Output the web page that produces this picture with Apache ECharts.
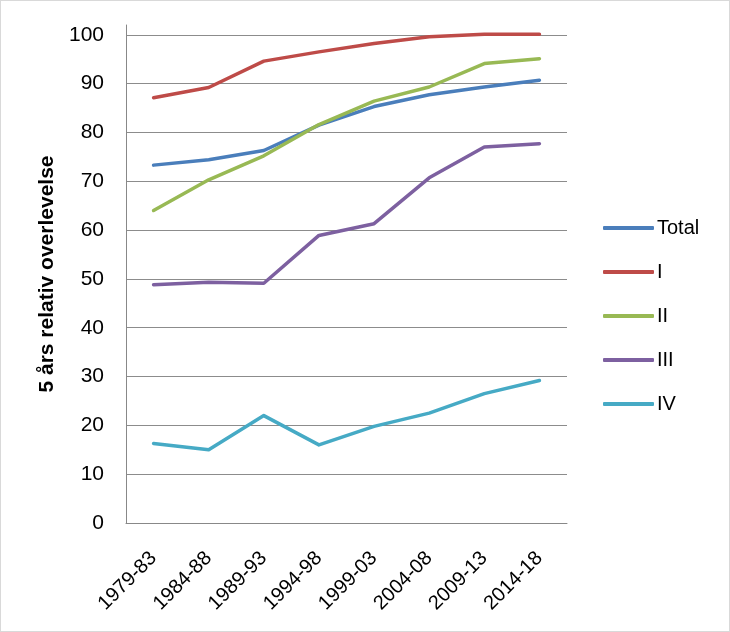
<!DOCTYPE html>
<html>
<head>
<meta charset="utf-8">
<script src="https://cdn.jsdelivr.net/npm/echarts@6/dist/echarts.min.js"></script>
<style>
html,body{margin:0;padding:0;background:#fff;}
#frame{position:absolute;left:0;top:0;width:728px;height:630px;border:1px solid #d9d9d9;}
#chart{width:730px;height:632px;position:absolute;left:0;top:0;}
</style>
</head>
<body>
<div id="frame"></div>
<div id="chart"></div>
<script>
const categories = ['1979-83','1984-88','1989-93','1994-98','1999-03','2004-08','2009-13','2014-18'];
const total = [73.3, 74.4, 76.3, 81.5, 85.3, 87.7, 89.3, 90.7];
const stageI = [87.1, 89.2, 94.6, 96.5, 98.2, 99.6, 100.1, 100.1];
const stageII = [64.0, 70.3, 75.2, 81.6, 86.4, 89.3, 94.1, 95.1];
const stageIII = [48.8, 49.3, 49.1, 58.9, 61.3, 70.7, 77.0, 77.7];
const stageIV = [16.3, 15.0, 22.0, 16.0, 19.8, 22.5, 26.5, 29.2];
const seriesNames = ['Total','I','II','III','IV'];
const colors = ['#4A7EBB','#BE4B48','#98B954','#7D60A0','#46AAC5'];
const yTicks = {min: 0, max: 102, interval: 10};
const yTitle = '5 års relativ overlevelse';

const dataSets = [total, stageI, stageII, stageIII, stageIV];
const font = '"Liberation Sans", "DejaVu Sans", sans-serif';
const chart = echarts.init(document.getElementById('chart'));
chart.setOption({
  animation: false,
  grid: {left: 126, right: 163, top: 25, bottom: 109, containLabel: false},
  legend: {
    orient: 'vertical', left: 598, top: 213,
    itemWidth: 51, itemHeight: 4, itemGap: 24, icon: 'roundRect',
    textStyle: {fontSize: 20, lineHeight: 20, color: '#000', fontFamily: font, padding: [0,0,0,-2]},
    data: seriesNames
  },
  xAxis: {
    type: 'category', data: categories, boundaryGap: true,
    axisLine: {lineStyle: {color: '#888', width: 1}},
    axisTick: {show: false},
    axisLabel: {rotate: 45, fontSize: 20, color: '#000', fontFamily: font, margin: 32, interval: 0}
  },
  yAxis: {
    type: 'value', min: yTicks.min, max: yTicks.max, interval: yTicks.interval,
    name: yTitle, nameLocation: 'middle', nameGap: 67,
    nameTextStyle: {fontSize: 21, fontWeight: 'bold', color: '#000', fontFamily: font},
    axisLine: {show: true, lineStyle: {color: '#888', width: 1}},
    axisTick: {show: false},
    axisLabel: {fontSize: 21, color: '#000', fontFamily: font, margin: 22, showMaxLabel: false},
    splitLine: {lineStyle: {color: '#8c8c8c', width: 1}, showMaxLine: false}
  },
  series: seriesNames.map((n, i) => ({
    name: n, type: 'line', data: dataSets[i], symbol: 'none',
    color: colors[i],
    lineStyle: {color: colors[i], width: 3.5, cap: 'round', join: 'round'}
  }))
});
</script>
</body>
</html>
